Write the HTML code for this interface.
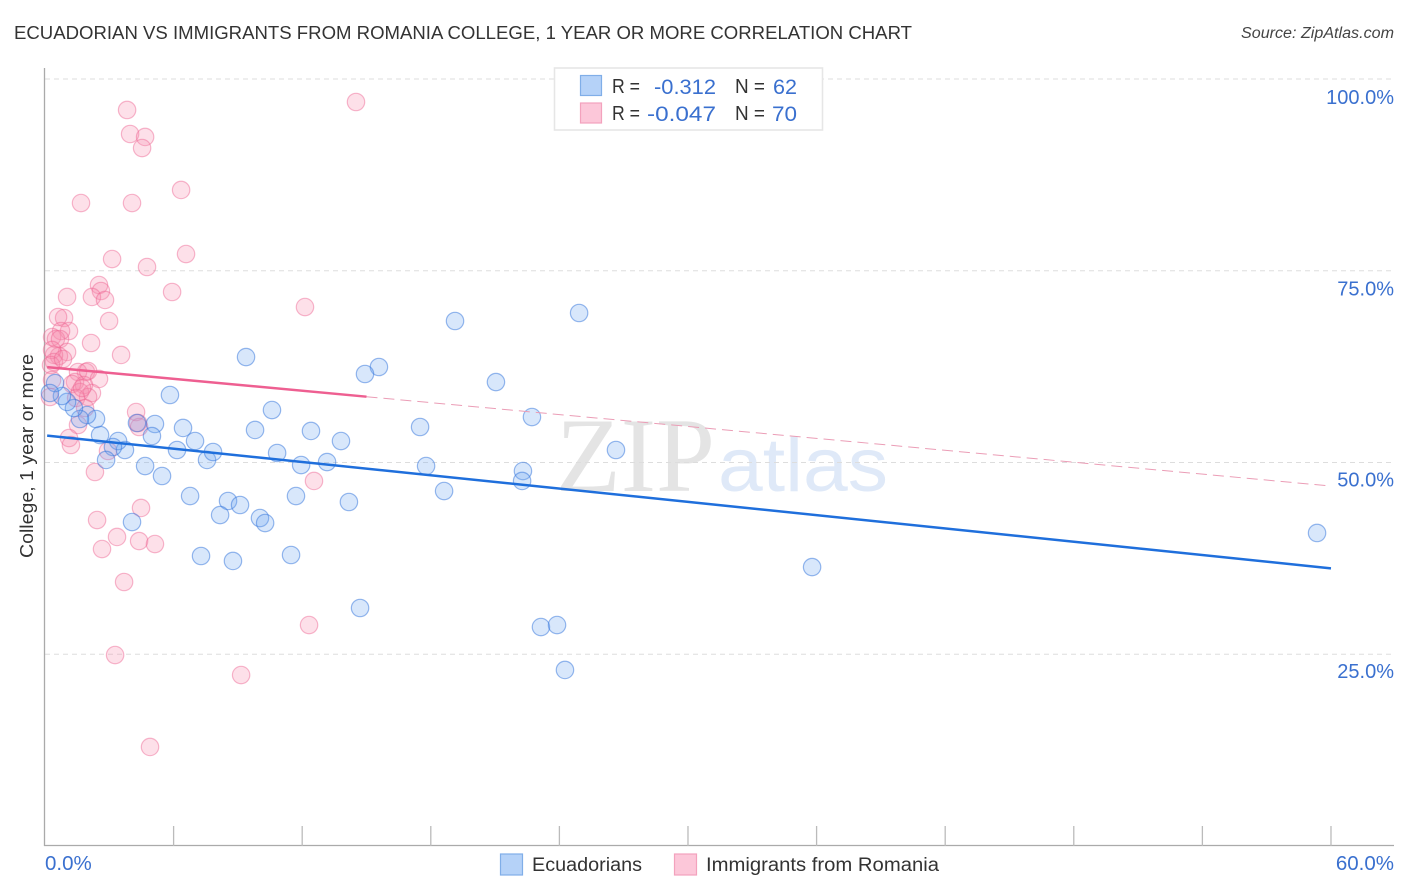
<!DOCTYPE html>
<html lang="en">
<head>
<meta charset="utf-8">
<title>Ecuadorian vs Immigrants from Romania College Correlation Chart</title>
<style>
html,body{margin:0;padding:0;background:#fff;width:1406px;height:892px;overflow:hidden}
svg{display:block;font-family:"Liberation Sans",sans-serif}
</style>
</head>
<body>
<svg id="chart" xmlns="http://www.w3.org/2000/svg" width="1406" height="892" viewBox="0 0 1406 892">
  <rect x="0" y="0" width="1406" height="892" fill="#ffffff"/>
  <text x="14" y="39" font-size="18.5" fill="#333333" textLength="898" lengthAdjust="spacingAndGlyphs">ECUADORIAN VS IMMIGRANTS FROM ROMANIA COLLEGE, 1 YEAR OR MORE CORRELATION CHART</text>
  <text x="1241" y="38" font-size="15.5" font-style="italic" fill="#444444" textLength="153" lengthAdjust="spacingAndGlyphs">Source: ZipAtlas.com</text>
  <g>
    <text x="556" y="491" font-family="'Liberation Serif',serif" font-size="106" fill="#e4e4e4" textLength="159" lengthAdjust="spacingAndGlyphs">ZIP</text>
    <text x="718" y="491" font-size="76" fill="#dfe9f8" textLength="170" lengthAdjust="spacingAndGlyphs">atlas</text>
  </g>
  <g id="grid"></g>
  <line x1="44.5" y1="68" x2="44.5" y2="846" stroke="#aaaaaa" stroke-width="1.3"/>
  <line x1="44" y1="845.5" x2="1394" y2="845.5" stroke="#aaaaaa" stroke-width="1.3"/>
  <g id="xticks"></g>
  <g id="points"></g>
  <g id="trends"></g>
  <g id="ylabels"></g>
  <g id="xlabels"></g>
  <text transform="translate(33,456) rotate(-90)" font-size="18.5" fill="#333333" text-anchor="middle" textLength="204" lengthAdjust="spacingAndGlyphs">College, 1 year or more</text>

  <g>
    <rect x="554.5" y="68" width="268" height="62" fill="#ffffff" stroke="#e6e6e6" stroke-width="1.6"/>
    <rect x="580.5" y="75.5" width="21" height="20" fill="#b5d2f8" stroke="#80aee8" stroke-width="1.2"/>
    <rect x="580.5" y="103" width="21" height="20" fill="#fcc7d9" stroke="#f3a2bd" stroke-width="1.2"/>
    <g font-size="20" fill="#333333">
      <text x="612" y="93" textLength="28" lengthAdjust="spacingAndGlyphs">R =</text>
      <text x="612" y="120" textLength="28" lengthAdjust="spacingAndGlyphs">R =</text>
      <text x="735" y="93" textLength="30" lengthAdjust="spacingAndGlyphs">N =</text>
      <text x="735" y="120" textLength="30" lengthAdjust="spacingAndGlyphs">N =</text>
    </g>
    <g font-size="21.5" fill="#3a70cf">
      <text x="654" y="94" textLength="62" lengthAdjust="spacingAndGlyphs">-0.312</text>
      <text x="647" y="121" textLength="69" lengthAdjust="spacingAndGlyphs">-0.047</text>
      <text x="773" y="94" textLength="24" lengthAdjust="spacingAndGlyphs">62</text>
      <text x="772" y="121" textLength="25" lengthAdjust="spacingAndGlyphs">70</text>
    </g>
  </g>

  <g>
    <rect x="500.5" y="854" width="22" height="21" fill="#b5d2f8" stroke="#80aee8" stroke-width="1.2"/>
    <text x="532" y="871" font-size="19" fill="#333333" textLength="110" lengthAdjust="spacingAndGlyphs">Ecuadorians</text>
    <rect x="674.5" y="854" width="22" height="21" fill="#fcc7d9" stroke="#f3a2bd" stroke-width="1.2"/>
    <text x="706" y="871" font-size="19" fill="#333333" textLength="233" lengthAdjust="spacingAndGlyphs">Immigrants from Romania</text>
  </g>
</svg>
<script>
const yTickValues = [100, 75, 50, 25];
const yTickLabels = ["100.0%", "75.0%", "50.0%", "25.0%"];
const xTickValues = [6, 12, 18, 24, 30, 36, 42, 48, 54, 60];
const xEndValues = [0, 60];
const xEndLabels = ["0.0%", "60.0%"];

const ecuadorianX = [59.35,35.79,24.92,19.13,15.58,14.93,21.04,22.72,26.64,17.50,17.78,22.30,22.26,18.62,14.18,13.81,13.16,12.41,11.95,11.71,10.59,9.80,10.83,9.38,5.83,6.44,7.00,6.16,7.56,7.84,6.77,5.46,4.67,5.13,4.99,4.29,8.54,9.10,8.17,10.03,10.27,7.28,8.77,11.48,4.06,14.70,23.14,23.89,24.26,3.73,3.41,3.17,2.85,2.57,2.38,1.96,1.63,1.35,1.03,0.79,0.47,0.23];
const ecuadorianY = [40.81,36.37,69.49,68.45,62.45,61.54,60.49,55.93,51.63,54.63,49.54,48.89,47.59,46.28,44.85,52.80,50.06,54.11,49.67,45.63,56.84,54.24,51.24,63.75,58.80,54.50,52.80,51.63,50.33,51.37,45.63,48.24,49.54,55.02,53.45,55.15,44.98,44.46,43.15,42.76,42.11,37.81,37.16,37.94,42.24,31.03,28.55,28.81,22.95,51.63,52.80,52.02,50.33,53.58,55.67,56.19,55.67,57.10,57.89,58.67,60.36,59.06];

const romaniaX = [14.51,3.83,3.97,4.67,4.53,6.35,1.68,4.06,6.58,3.13,4.76,5.93,2.52,2.61,2.19,2.80,1.03,12.13,2.99,0.89,0.61,1.12,0.75,0.33,0.51,0.70,2.15,3.55,1.03,0.65,0.42,0.33,0.42,0.28,0.84,1.91,1.54,2.01,2.52,1.40,1.82,1.26,1.63,2.19,2.01,1.45,1.73,1.87,1.54,4.25,4.39,4.34,1.12,1.21,2.94,2.33,12.55,2.43,4.48,2.66,3.36,4.39,5.13,3.69,3.27,12.32,9.15,4.90,0.23,0.33];
const romaniaY = [97.00,95.96,92.83,92.44,91.00,85.53,83.83,83.83,77.18,76.53,75.49,72.23,73.14,72.36,71.58,71.19,71.58,70.27,68.45,68.84,68.97,67.14,67.14,66.36,66.10,66.10,65.58,64.02,64.41,63.88,64.02,64.67,63.10,62.71,63.49,61.80,61.80,61.93,60.89,60.49,60.10,60.23,59.19,59.06,58.54,58.41,59.71,57.10,54.89,56.58,54.63,55.15,53.19,52.28,51.50,48.76,47.59,42.50,44.07,38.72,40.29,39.76,39.37,34.42,24.90,28.81,22.29,12.91,58.54,60.76];

const ecuadorianTrendX = [0.1, 60];
const ecuadorianTrendY = [53.5, 36.2];
const romaniaTrendX = [0.1, 15, 60];
const romaniaTrendY = [62.43, 58.58, 46.93];

const NS = "http://www.w3.org/2000/svg";
function xScale(v){ return 45 + v * 21.433; }
function yScale(v){ return 846 - v * 7.67; }
function yLabelScale(v){ return 104 + (100 - v) * 7.65; }
function make(tag, attrs, parent){
  const el = document.createElementNS(NS, tag);
  for (const k in attrs) el.setAttribute(k, attrs[k]);
  parent.appendChild(el);
  return el;
}

const grid = document.getElementById("grid");
const ylabels = document.getElementById("ylabels");
yTickValues.forEach(function(v, i){
  const gl = make("line", {x1: 45, x2: 1394, y1: yScale(v), y2: yScale(v), stroke: "#dddddd", "stroke-width": 1, "stroke-dasharray": "5 4"}, grid);
  
  
  const t = make("text", {x: 1394, y: yLabelScale(v), "font-size": 20, fill: "#3a70cf", "text-anchor": "end"}, ylabels);
  t.textContent = yTickLabels[i];
  
  
});

const xticks = document.getElementById("xticks");
xTickValues.forEach(function(v){
  const tick = make("line", {x1: xScale(v), x2: xScale(v), y1: 826, y2: 846, stroke: "#bbbbbb", "stroke-width": 1.3}, xticks);
  
  
});

const xlabels = document.getElementById("xlabels");
xEndValues.forEach(function(v, i){
  const isLast = i === xEndValues.length - 1;
  const t = make("text", {x: isLast ? 1394 : xScale(v), y: 870, "font-size": 20.5, fill: "#3a70cf", "text-anchor": isLast ? "end" : "start"}, xlabels);
  t.textContent = xEndLabels[i];
  
  
});

const points = document.getElementById("points");
romaniaX.forEach(function(v, i){
  const c = make("circle", {cx: xScale(v), cy: yScale(romaniaY[i]), r: 8.7, fill: "rgba(248,140,175,0.27)", stroke: "rgba(238,100,145,0.46)", "stroke-width": 1.2}, points);
  
  
});
ecuadorianX.forEach(function(v, i){
  const c = make("circle", {cx: xScale(v), cy: yScale(ecuadorianY[i]), r: 8.7, fill: "rgba(110,165,240,0.27)", stroke: "rgba(50,115,220,0.5)", "stroke-width": 1.2}, points);
  
  
});

const trends = document.getElementById("trends");
const blueTrend = make("line", {x1: xScale(ecuadorianTrendX[0]), y1: yScale(ecuadorianTrendY[0]), x2: xScale(ecuadorianTrendX[1]), y2: yScale(ecuadorianTrendY[1]), stroke: "#1f6fdc", "stroke-width": 2.5}, trends);


const pinkSolid = make("line", {x1: xScale(romaniaTrendX[0]), y1: yScale(romaniaTrendY[0]), x2: xScale(romaniaTrendX[1]), y2: yScale(romaniaTrendY[1]), stroke: "#ee5f91", "stroke-width": 2.5}, trends);


const pinkDashed = make("line", {x1: xScale(romaniaTrendX[1]), y1: yScale(romaniaTrendY[1]), x2: xScale(romaniaTrendX[2]), y2: yScale(romaniaTrendY[2]), stroke: "#eb9db6", "stroke-width": 1, "stroke-dasharray": "11 6"}, trends);


</script>
</body>
</html>
